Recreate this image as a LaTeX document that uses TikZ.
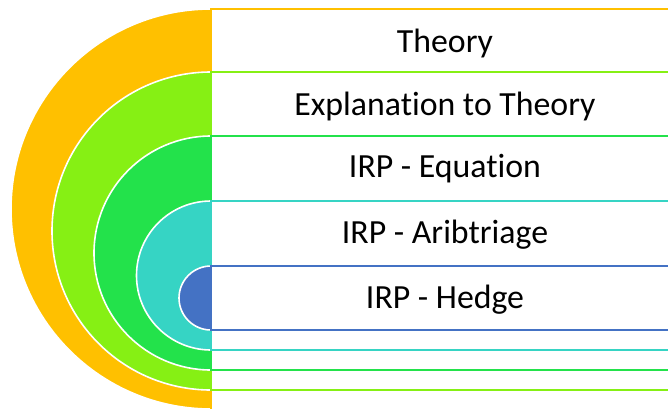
\documentclass[tikz,border=0pt]{standalone}
\usepackage{fontspec}
\setmainfont{Carlito}[Ligatures=NoCommon]
\definecolor{cOrange}{RGB}{255,192,0}
\definecolor{cLime}{RGB}{134,240,20}
\definecolor{cGreen}{RGB}{35,226,75}
\definecolor{cTeal}{RGB}{54,212,196}
\definecolor{cBlue}{RGB}{68,114,196}
\begin{document}
\begin{tikzpicture}[x=1pt,y=-1pt,
  halfdisc/.style={draw=white, line width=1.6pt},
  band/.style={fill=white, line width=1.6pt},
  label/.style={font=\fontsize{33.8}{40}\selectfont, anchor=base, inner sep=0pt, text=black}]
\useasboundingbox (0,0) rectangle (668,408);
\clip (0,0) rectangle (668,408);
\fill[white] (0,0) rectangle (668,408);
% orange
\fill[cOrange, halfdisc] (211,9) arc[start angle=-90, end angle=-270, radius=200] -- cycle;
\draw[cOrange, band] (211,9) rectangle (690,412);
% lime
\fill[cLime, halfdisc] (211,72) arc[start angle=-90, end angle=-270, radius=159] -- cycle;
\draw[cLime, band] (211,72) rectangle (690,390);
% green
\fill[cGreen, halfdisc] (211,136) arc[start angle=-90, end angle=-270, radius=117] -- cycle;
\draw[cGreen, band] (211,136) rectangle (690,370);
% teal
\fill[cTeal, halfdisc] (211,201) arc[start angle=-90, end angle=-270, radius=74.5] -- cycle;
\draw[cTeal, band] (211,201) rectangle (690,350);
% blue
\fill[cBlue, halfdisc] (211,266) arc[start angle=-90, end angle=-270, radius=32] -- cycle;
\draw[cBlue, band] (211,266) rectangle (690,330);
% labels
\node[label] (t1) at (445,52) {Theory};
\node[label] (t2) at (445,115) {Explanation to Theory};
\node[label] (t3) at (445,177) {IRP - Equation};
\node[label] (t4) at (445,243) {IRP - Aribtriage};
\node[label] (t5) at (445,308) {IRP - Hedge};
\end{tikzpicture}
\end{document}
